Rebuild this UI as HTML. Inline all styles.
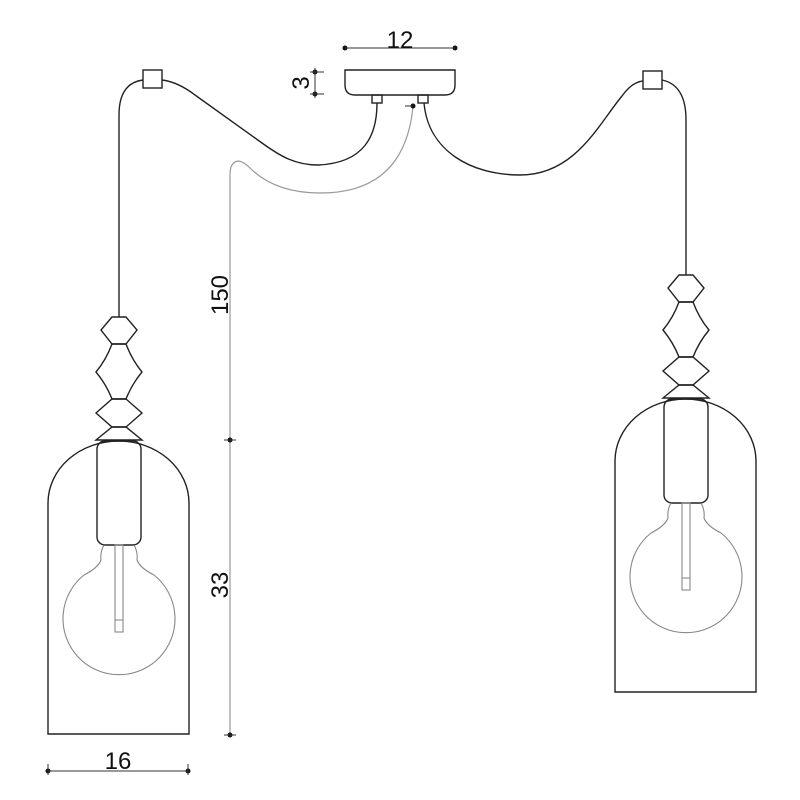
<!DOCTYPE html>
<html><head><style>body{margin:0;background:#fff}svg{display:block}text{font-family:"Liberation Sans",sans-serif;fill:#111}</style></head>
<body>
<svg width="800" height="800" viewBox="0 0 800 800" xmlns="http://www.w3.org/2000/svg">
<g fill="none" stroke="#222" stroke-width="1.4">
<path d="M345 70 H455 V85 Q455 95 445 95 H355 Q345 95 345 85 Z"/>
<rect x="372" y="95" width="10" height="8"/>
<rect x="418" y="95" width="10" height="8"/>
<rect x="143" y="70" width="19" height="18"/>
<rect x="643" y="71" width="19" height="18"/>
<path d="M162 80 Q178 82 195 95 L262 143 C280 156 295 165 318 165 C365 163 377 135 377 103"/>
<path d="M424 103 C428 150 470 175 520 175 C575 175 598 125 622 96 Q632 82 643 81"/>
<path d="M143 80 Q119 83 119 115 V317"/>
<path d="M662 80 Q686 85 686 120 V275"/>
</g>
<g fill="none" stroke="#999" stroke-width="1.2">
<path d="M413 106 Q405 193 320 193 Q275 193 250 168 Q238 156 232 165 Q230 168 230 175 V735"/>
</g>
<g fill="#111">
<circle cx="413" cy="106" r="2.5"/>
<circle cx="230" cy="440" r="2.5"/>
<circle cx="230" cy="735" r="2.5"/>
<circle cx="345" cy="48" r="2.5"/><circle cx="455" cy="48" r="2.5"/>
<circle cx="315" cy="72" r="2.5"/><circle cx="315" cy="94" r="2.5"/>
<circle cx="48" cy="771" r="2.5"/><circle cx="188" cy="771" r="2.5"/>
</g>
<g stroke="#333" stroke-width="1" fill="none">
<line x1="345" y1="48" x2="455" y2="48"/>
<line x1="315" y1="68" x2="315" y2="98"/>
<line x1="310" y1="72" x2="324" y2="72"/><line x1="310" y1="94" x2="324" y2="94"/>
<line x1="48" y1="771" x2="188" y2="771"/>
<line x1="48" y1="764" x2="48" y2="775"/><line x1="188" y1="764" x2="188" y2="775"/>
<line x1="224" y1="440" x2="236" y2="440"/><line x1="224" y1="735" x2="236" y2="735"/>
<line x1="405" y1="106" x2="413" y2="106"/>
</g>
<text x="400" y="48" font-size="24" text-anchor="middle">12</text>
<text x="118" y="769" font-size="24" text-anchor="middle">16</text>
<text transform="translate(309,83) rotate(-90)" font-size="24" text-anchor="middle">3</text>
<text transform="translate(228,295) rotate(-90)" font-size="24" text-anchor="middle">150</text>
<text transform="translate(228,585) rotate(-90)" font-size="24" text-anchor="middle">33</text>
<defs>
<g id="p">
<g fill="none" stroke="#222" stroke-width="1.4">
<path d="M112 317 H126 L137 330 L126 344 H112 L101 330 Z"/>
<path d="M112 344 H126 Q132 360 142 372 Q132 384 126 399 H112 Q106 384 96 372 Q106 360 112 344 Z"/>
<path d="M112 399 H126 L142 413 L126 427 H112 L96 413 Z"/>
<path d="M112 427 H126 L142 440 H96 Z"/>
<path d="M48 734 V503 A70.5 62 0 0 1 189 503 V734 Z"/>
<rect x="97" y="441" width="44" height="104" rx="8"/>
</g>
<g fill="none" stroke="#888" stroke-width="1.1">
<path d="M104 545 Q100 552 101 560 Q98 568 84 575 A56 56 0 1 0 154 575 Q140 568 137 560 Q138 552 134 545"/>
<rect x="115" y="545" width="8" height="87"/>
<line x1="115" y1="620" x2="123" y2="620"/>
</g>
</g>
</defs>
<use href="#p"/>
<use href="#p" transform="translate(567,-42)"/>
</svg>
</body></html>
